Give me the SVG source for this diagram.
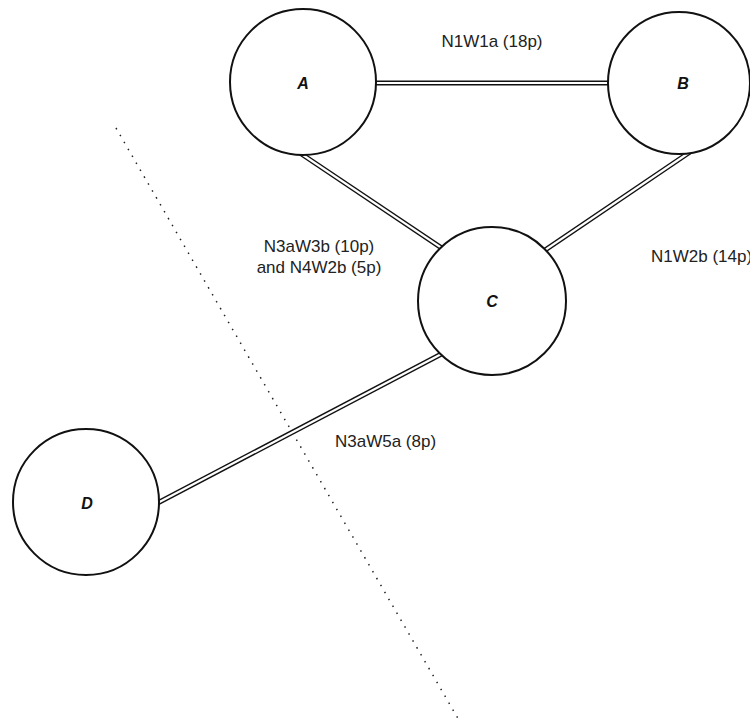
<svg xmlns="http://www.w3.org/2000/svg" width="750" height="722" viewBox="0 0 750 722">
<style>
.outer{stroke:#111;stroke-width:5;fill:none}
.inner{stroke:#fff;stroke-width:2.2;fill:none}
.node{fill:#fff;stroke:#111;stroke-width:2}
.nl{font-family:"Liberation Sans",Arial,sans-serif;font-size:16px;font-weight:bold;font-style:italic;fill:#111;text-anchor:middle}
.lbl{font-family:"Liberation Sans",Arial,sans-serif;font-size:17px;fill:#222}
</style>
<rect width="750" height="722" fill="#fff"/>
<line x1="116" y1="128" x2="460" y2="722" stroke="#222" stroke-width="1.5" stroke-dasharray="1.5 6.5"/>
<g id="connectors">
<line class="outer" x1="340" y1="83" x2="640" y2="83"/>
<line class="inner" x1="340" y1="83" x2="640" y2="83"/>
<line class="outer" x1="300" y1="153" x2="470" y2="267"/>
<line class="inner" x1="300" y1="153" x2="470" y2="267"/>
<line class="outer" x1="690" y1="152" x2="520" y2="267"/>
<line class="inner" x1="690" y1="152" x2="520" y2="267"/>
<line class="outer" x1="470" y1="339" x2="150" y2="507"/>
<line class="inner" x1="470" y1="339" x2="150" y2="507"/>
</g>
<g id="A"><circle class="node" cx="303" cy="82" r="73"/><text class="nl" x="303" y="89">A</text></g>
<g id="B"><circle class="node" cx="679" cy="83" r="71"/><text class="nl" x="683" y="89">B</text></g>
<g id="C"><circle class="node" cx="492" cy="301" r="74"/><text class="nl" x="492" y="307">C</text></g>
<g id="D"><circle class="node" cx="86" cy="502" r="73"/><text class="nl" x="87" y="509">D</text></g>
<g id="labels">
<text class="lbl" x="492" y="47" text-anchor="middle">N1W1a (18p)</text>
<text class="lbl" x="319" y="252" text-anchor="middle">N3aW3b (10p)</text>
<text class="lbl" x="319" y="273" text-anchor="middle">and N4W2b (5p)</text>
<text class="lbl" x="651" y="262">N1W2b (14p)</text>
<text class="lbl" x="335" y="447">N3aW5a (8p)</text>
</g>
</svg>
